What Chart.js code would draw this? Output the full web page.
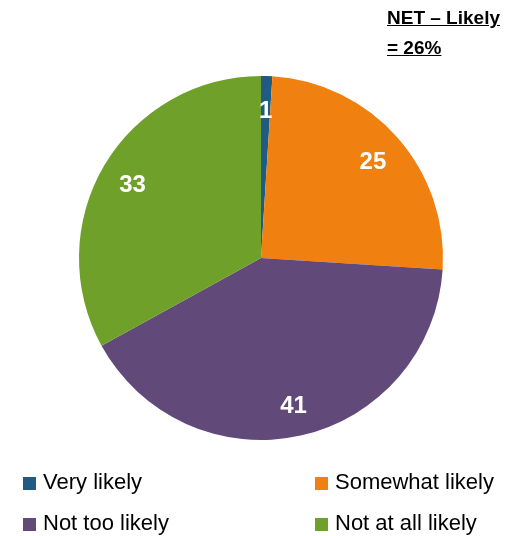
<!DOCTYPE html>
<html>
<head>
<meta charset="utf-8">
<script src="https://cdn.jsdelivr.net/npm/chart.js@4/dist/chart.umd.min.js"></script>
<style>
  body { margin: 0; background: #fff; font-family: "Liberation Sans", Arial, sans-serif; }
  #wrap { position: relative; width: 512px; height: 536px; }
  #grafico { position: absolute; left: 0; top: 0; }
  #titulo { position: absolute; left: 387px; top: 3px; font-size: 19px; line-height: 30px; font-weight: bold; text-decoration: underline; color: #000; }
  .item { position: absolute; font-size: 22px; line-height: 22px; color: #000; white-space: nowrap; }
  .quad { position: absolute; width: 13px; height: 13px; }
</style>
</head>
<body>
<div id="wrap">
  <canvas id="grafico" width="512" height="536"></canvas>
  <div id="titulo">NET – Likely<br>= 26%</div>
  <div id="legenda"></div>
</div>
<script>
const categorias = ['Very likely', 'Somewhat likely', 'Not too likely', 'Not at all likely'];
const valores = [1, 25, 41, 33];
const cores = ['#1F5B82', '#F08010', '#614A7A', '#6FA02A'];

// rotulos dentro das fatias
const rotulosPlugin = {
    id: 'rotulos',
    afterDatasetsDraw(chart) {
        const ctx = chart.ctx;
        const meta = chart.getDatasetMeta(0);
        ctx.save();
        ctx.fillStyle = '#fff';
        ctx.font = 'bold 24px "Liberation Sans", Arial, sans-serif';
        ctx.textAlign = 'center';
        ctx.textBaseline = 'middle';
        meta.data.forEach((arco, i) => {
            const p = arco.getProps(['x', 'y', 'startAngle', 'endAngle', 'outerRadius'], true);
            const meio = (p.startAngle + p.endAngle) / 2;
            const r = p.outerRadius * 0.82;
            ctx.fillText(String(valores[i]), p.x + Math.cos(meio) * r, p.y + Math.sin(meio) * r + 3);
        });
        ctx.restore();
    }
};

new Chart(document.getElementById('grafico').getContext('2d'), {
    type: 'pie',
    data: {
        labels: categorias,
        datasets: [{
            data: valores,
            backgroundColor: cores,
            borderWidth: 0
        }]
    },
    options: {
        responsive: false,
        animation: false,
        layout: { padding: { left: 79, right: 69, top: 75, bottom: 95 } },
        plugins: {
            legend: { display: false },
            tooltip: { enabled: false }
        }
    },
    plugins: [rotulosPlugin]
});

// legenda 2x2
const legenda = document.getElementById('legenda');
const colunas = [23, 315];
const linhas = [477, 518];
categorias.forEach((nome, i) => {
    const x = colunas[i % 2];
    const y = linhas[Math.floor(i / 2)];
    const q = document.createElement('div');
    q.className = 'quad';
    q.style.left = x + 'px';
    q.style.top = y + 'px';
    q.style.background = cores[i];
    legenda.appendChild(q);
    const t = document.createElement('div');
    t.className = 'item';
    t.style.left = (x + 20) + 'px';
    t.style.top = (y - 6) + 'px';
    t.textContent = nome;
    legenda.appendChild(t);
});
</script>
</body>
</html>
